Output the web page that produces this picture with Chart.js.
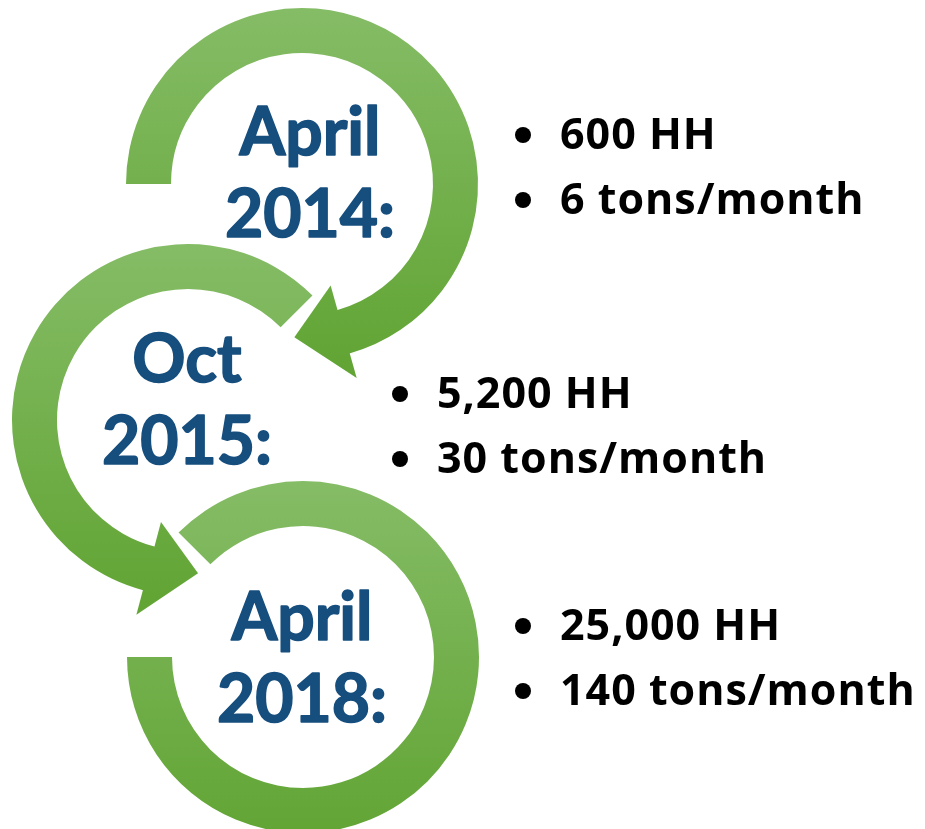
<!DOCTYPE html>
<html>
<head>
<meta charset="utf-8">
<script src="https://cdn.jsdelivr.net/npm/chart.js@4.4.1/dist/chart.umd.min.js"></script>
<style>
  html, body { margin: 0; padding: 0; background: #fff; overflow: hidden; }
  #stage { position: relative; width: 925px; height: 829px; }
  #stage canvas { position: absolute; left: 0; top: 0; }
</style>
</head>
<body>
<div id="stage">
  <canvas id="ring0" width="925" height="829"></canvas>
  <canvas id="ring1" width="925" height="829"></canvas>
  <canvas id="ring2" width="925" height="829"></canvas>
</div>
<script>
// --- Data ---
const dateTop = ['April', 'Oct', 'April'];
const dateYear = ['2014:', '2015:', '2018:'];
const households = ['600 HH', '5,200 HH', '25,000 HH'];
const tonnage = ['6 tons/month', '30 tons/month', '140 tons/month'];
// arc extents in degrees, clockwise from 3 o'clock
const arcStart = [180, 104.5, 225];
const arcSpan = [254.6, 210.5, 315];
const arrowAt = ['end', 'start', 'none'];

// --- Layout ---
const W = 925, H = 829;
const R_OUT = 176, R_IN = 131;
const centers = [{ x: 302, y: 184 }, { x: 188, y: 420 }, { x: 303, y: 657 }];
const labelPos = [{ x: 310, y: 155 }, { x: 187, y: 382 }, { x: 302, y: 640 }];
const bulletPos = [{ x: 523, y: 149 }, { x: 400, y: 408 }, { x: 523, y: 640 }];
const HEAD_HALF = 48, HEAD_DEG = 18.6;
const BLUE = '#164e7e';

function ringGradient(chart, i) {
  const c = centers[i];
  const g = chart.ctx.createLinearGradient(0, c.y - R_OUT, 0, c.y + R_OUT);
  g.addColorStop(0, '#85bc66');
  g.addColorStop(1, '#62a535');
  return g;
}

const arrowAndText = {
  id: 'arrowAndText',
  afterDatasetsDraw(chart) {
    const i = chart.options.ringIndex;
    const ctx = chart.ctx;
    const arc = chart.getDatasetMeta(0).data[0];
    ctx.save();

    // arrowhead at the open end of the ring
    if (arrowAt[i] !== 'none') {
      const dir = arrowAt[i] === 'end' ? 1 : -1;
      const a = (arrowAt[i] === 'end' ? arc.endAngle : arc.startAngle) - dir * 0.006;
      const mid = (arc.innerRadius + arc.outerRadius) / 2;
      const t = a + dir * HEAD_DEG * Math.PI / 180;
      ctx.fillStyle = ringGradient(chart, i);
      ctx.beginPath();
      ctx.moveTo(arc.x + Math.cos(a) * (mid - HEAD_HALF), arc.y + Math.sin(a) * (mid - HEAD_HALF));
      ctx.lineTo(arc.x + Math.cos(t) * mid, arc.y + Math.sin(t) * mid);
      ctx.lineTo(arc.x + Math.cos(a) * (mid + HEAD_HALF), arc.y + Math.sin(a) * (mid + HEAD_HALF));
      ctx.closePath();
      ctx.fill();
    }

    // date label inside the ring (thin stroke makes Lato as heavy as the original)
    const lp = labelPos[i];
    ctx.fillStyle = BLUE;
    ctx.strokeStyle = BLUE;
    ctx.lineWidth = 1.6;
    ctx.lineJoin = 'round';
    ctx.font = 'bold 66px Lato, "Open Sans", sans-serif';
    ctx.textAlign = 'center';
    ctx.textBaseline = 'alphabetic';
    [dateTop[i], dateYear[i]].forEach((txt, k) => {
      ctx.fillText(txt, lp.x, lp.y + k * 82);
      ctx.strokeText(txt, lp.x, lp.y + k * 82);
    });

    // bullet list
    const bp = bulletPos[i];
    ctx.fillStyle = '#000';
    ctx.font = 'bold 43px "Open Sans", Lato, sans-serif';
    ctx.letterSpacing = '1px';
    ctx.textAlign = 'left';
    [households[i], tonnage[i]].forEach((txt, k) => {
      const by = bp.y + k * 65;
      ctx.beginPath();
      ctx.arc(bp.x, by - 14, 8, 0, Math.PI * 2);
      ctx.fill();
      ctx.fillText(txt, bp.x + 37, by);
    });
    ctx.restore();
  }
};

function makeRing(i) {
  const c = centers[i];
  return new Chart(document.getElementById('ring' + i), {
    type: 'doughnut',
    data: {
      labels: ['ring', 'gap'],
      datasets: [{
        data: [arcSpan[i], 360 - arcSpan[i]],
        backgroundColor: (ctx) => ctx.dataIndex === 0 ? ringGradient(ctx.chart, i) : 'rgba(0,0,0,0)',
        borderWidth: 0,
        hoverOffset: 0,
        clip: false
      }]
    },
    options: {
      ringIndex: i,
      responsive: false,
      animation: false,
      events: [],
      rotation: arcStart[i] + 90,
      radius: R_OUT,
      cutout: (R_IN / R_OUT * 100) + '%',
      layout: {
        padding: { left: c.x - 150, right: W - c.x - 150, top: c.y - 150, bottom: H - c.y - 150 }
      },
      plugins: { legend: { display: false }, tooltip: { enabled: false } }
    },
    plugins: [arrowAndText]
  });
}

Promise.all([
  document.fonts.load('bold 66px Lato'),
  document.fonts.load('bold 43px "Open Sans"')
]).finally(() => {
  [0, 1, 2].forEach(makeRing);
});
</script>
</body>
</html>
